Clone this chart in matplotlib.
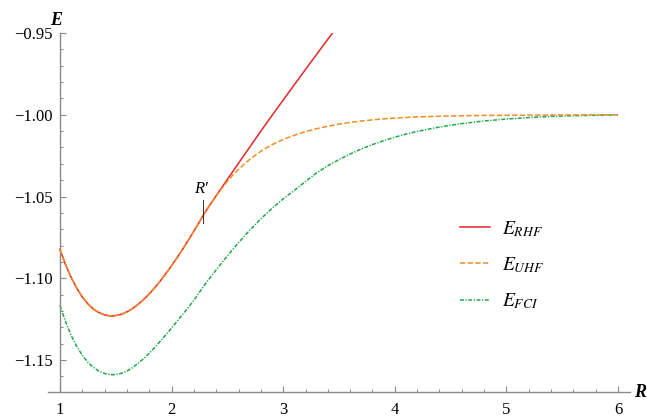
import matplotlib
matplotlib.use("Agg")
import matplotlib.pyplot as plt
from matplotlib.ticker import MultipleLocator, FixedLocator, FuncFormatter

plt.rcParams['mathtext.fontset'] = 'stix'
plt.rcParams['font.family'] = ['Liberation Serif', 'DejaVu Serif']

# ---- data ----
r_rhf = [1.0, 1.05, 1.1, 1.15, 1.2, 1.25, 1.3, 1.35, 1.4, 1.45, 1.5, 1.55, 1.6,
         1.65, 1.7, 1.75, 1.8, 1.85, 1.9, 1.95, 2.0, 2.05, 2.1, 2.15, 2.2, 2.25,
         2.3, 2.35, 2.4, 2.45, 2.5, 2.6, 2.7, 2.8, 2.9, 3.0, 3.1, 3.2, 3.3, 3.4, 3.5]
e_rhf = [-1.0823, -1.0916, -1.0994, -1.1060, -1.1114, -1.1156, -1.1188, -1.1210,
         -1.1224, -1.1230, -1.1228, -1.1220, -1.1205, -1.1185, -1.1159, -1.1129,
         -1.1095, -1.1057, -1.1015, -1.0970, -1.0923, -1.0873, -1.0821, -1.0767,
         -1.0711, -1.0654, -1.0596, -1.0544, -1.0495, -1.0445, -1.0395, -1.0296,
         -1.0198, -1.0100, -1.0004, -0.9910, -0.9816, -0.9723, -0.9630, -0.9538,
         -0.9447]

r_uhf = [1.0, 1.05, 1.1, 1.15, 1.2, 1.25, 1.3, 1.35, 1.4, 1.45, 1.5, 1.55, 1.6,
         1.65, 1.7, 1.75, 1.8, 1.85, 1.9, 1.95, 2.0, 2.05, 2.1, 2.15, 2.2, 2.25,
         2.3, 2.35, 2.4, 2.45, 2.5, 2.55, 2.6, 2.65, 2.7, 2.75, 2.8, 2.85, 2.9,
         3.0, 3.1, 3.2, 3.3, 3.4, 3.5, 3.6, 3.7, 3.8, 3.9, 4.0, 4.2, 4.4, 4.6,
         4.8, 5.0, 5.5, 6.0]
e_uhf = [-1.0823, -1.0916, -1.0994, -1.1060, -1.1114, -1.1156, -1.1188, -1.1210,
         -1.1224, -1.1230, -1.1228, -1.1220, -1.1205, -1.1185, -1.1159, -1.1129,
         -1.1095, -1.1057, -1.1015, -1.0970, -1.0923, -1.0873, -1.0821, -1.0767,
         -1.0711, -1.0654, -1.0597, -1.0545, -1.0497, -1.0450, -1.0407, -1.0368,
         -1.0334, -1.0302, -1.0273, -1.0247, -1.0223, -1.0202, -1.0183, -1.0151,
         -1.0125, -1.0103, -1.0085, -1.0070, -1.0057, -1.0047, -1.0038, -1.0031,
         -1.0025, -1.0020, -1.0013, -1.0009, -1.0006, -1.0004, -1.0003, -1.0001,
         -1.0000]

r_fci = [1.0, 1.05, 1.1, 1.15, 1.2, 1.25, 1.3, 1.35, 1.4, 1.45, 1.5, 1.55, 1.6,
         1.65, 1.7, 1.75, 1.8, 1.85, 1.9, 1.95, 2.0, 2.05, 2.1, 2.15, 2.2, 2.25,
         2.3, 2.35, 2.4, 2.45, 2.5, 2.55, 2.6, 2.7, 2.8, 2.9, 3.0, 3.1, 3.2, 3.3,
         3.4, 3.5, 3.6, 3.7, 3.8, 3.9, 4.0, 4.1, 4.2, 4.3, 4.4, 4.5, 4.6, 4.8,
         5.0, 5.2, 5.4, 5.6, 5.8, 6.0]
e_fci = [-1.1165, -1.1265, -1.1348, -1.1416, -1.1470, -1.1513, -1.1545, -1.1568,
         -1.1582, -1.1589, -1.1589, -1.1581, -1.1567, -1.1546, -1.1520, -1.1491,
         -1.1458, -1.1422, -1.1384, -1.1344, -1.1304, -1.1262, -1.1220, -1.1178,
         -1.1134, -1.1085, -1.1036, -1.0992, -1.0948, -1.0905, -1.0863, -1.0822,
         -1.0782, -1.0706, -1.0636, -1.0572, -1.0514, -1.0462, -1.0408, -1.0355,
         -1.0312, -1.0274, -1.0240, -1.0209, -1.0182, -1.0158, -1.0137, -1.0118,
         -1.0102, -1.0088, -1.0075, -1.0064, -1.0054, -1.0038, -1.0026, -1.0017,
         -1.0010, -1.0006, -1.0003, -1.0001]

r_prime = 2.28
r_prime_marker = [-1.0524, -1.0659]

x_ticks = [1, 2, 3, 4, 5, 6]
y_ticks = [-1.15, -1.10, -1.05, -1.00, -0.95]
labels = [r'$E_{RHF}$', r'$E_{UHF}$', r'$E_{FCI}$']

# ---- figure ----
fig = plt.figure(figsize=(6.47, 4.17), dpi=100)
ax = fig.add_axes([48/647, 1 - 392/417, (630 - 48)/647, (392 - 33)/417])
ax.set_xlim(0.893, 6.107)
ax.set_ylim(-1.1695, -0.95)

c_rhf = '#E8262A'
c_uhf = '#F28C28'
c_fci = '#1FA84A'

ax.plot(r_rhf, e_rhf, color=c_rhf, lw=1.1, label=labels[0], zorder=3)
ax.plot(r_uhf, e_uhf, color=c_uhf, lw=1.1, dashes=(3.5, 1.5), label=labels[1], zorder=4)
ax.plot(r_fci, e_fci, color=c_fci, lw=1.1, dashes=(2.6, 1.0, 0.8, 1.0), label=labels[2], zorder=2)

# R' marker
ax.plot([r_prime, r_prime], r_prime_marker, color='#333333', lw=0.7, zorder=5)
ax.text(r_prime - 0.02, -1.0455, "R'", fontsize=12, style='italic',
        ha='center', va='center', family=['Liberation Serif'])

# spines
for s in ['top', 'right']:
    ax.spines[s].set_visible(False)
ax.spines['left'].set_position(('data', 1))
axis_col = '#8a8a8a'
ax.spines['left'].set_color(axis_col)
ax.spines['bottom'].set_color(axis_col)
ax.spines['left'].set_linewidth(1.0)
ax.spines['bottom'].set_linewidth(1.0)

ax.xaxis.set_major_locator(FixedLocator(x_ticks))
ax.yaxis.set_major_locator(FixedLocator(y_ticks))
ax.xaxis.set_minor_locator(MultipleLocator(0.2))
ax.yaxis.set_minor_locator(MultipleLocator(0.01))
ax.xaxis.set_major_formatter(FuncFormatter(lambda v, p: f"{v:g}"))
ax.yaxis.set_major_formatter(FuncFormatter(lambda v, p: f"{v:.2f}".replace('-', '\u2212')))
ax.tick_params(which='both', direction='in', color=axis_col, labelsize=12,
               labelcolor='black')
ax.tick_params(which='major', length=4, width=0.8)
ax.tick_params(which='minor', length=2.2, width=0.7)
ax.tick_params(axis='x', which='major', pad=7)
ax.tick_params(axis='y', which='major', pad=5)

# axis labels
ax.text(1.0 - 0.035, -0.9425, 'E', fontsize=13, fontweight='bold', style='italic',
        ha='center', va='center', clip_on=False)
ax.text(6.195, -1.1695, 'R', fontsize=13, fontweight='bold', style='italic',
        ha='center', va='center', clip_on=False)

leg = ax.legend(loc='upper left', bbox_to_anchor=((460 - 48)/582, 1 - (219 - 33)/359),
                frameon=False, fontsize=14, handlelength=1.55, handletextpad=0.6,
                labelspacing=0.85, borderaxespad=0, borderpad=0)

fig.savefig('out.png', dpi=100)
